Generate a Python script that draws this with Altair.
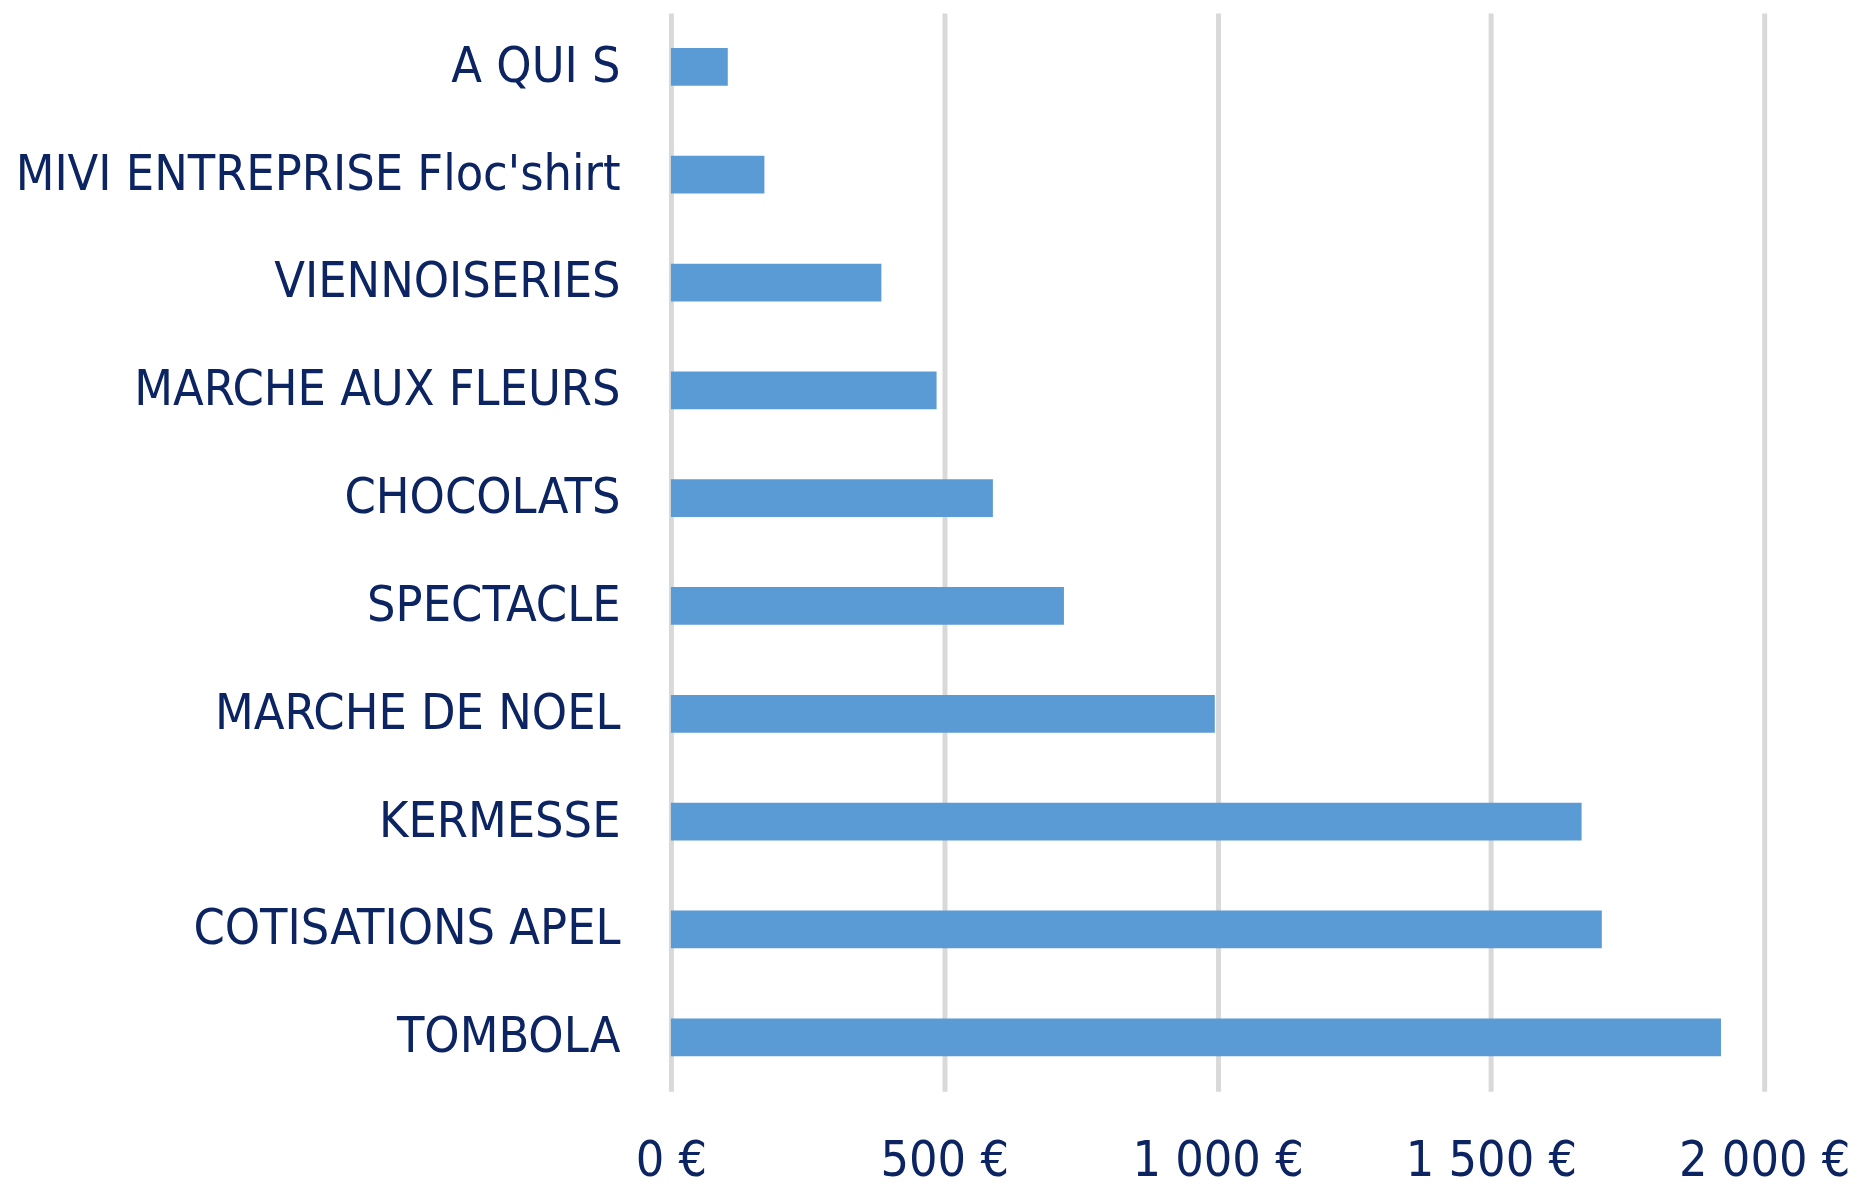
import altair as alt
import pandas as pd

categories = ["A QUI S", "MIVI ENTREPRISE Floc'shirt", "VIENNOISERIES", "MARCHE AUX FLEURS",
              "CHOCOLATS", "SPECTACLE", "MARCHE DE NOEL", "KERMESSE", "COTISATIONS APEL", "TOMBOLA"]
values = [104, 171, 385, 486, 589, 719, 995, 1666, 1703, 1921]
x_ticks = [0, 500, 1000, 1500, 2000]

df = pd.DataFrame({"cat": categories, "val": values})

FONT = "DejaVu Sans Condensed"
TEXT = "#0c2461"

chart = alt.Chart(df).mark_bar(color="#5b9bd5").encode(
    x=alt.X("val:Q", scale=alt.Scale(domain=[0, 2000], nice=False),
            axis=alt.Axis(values=x_ticks, title=None, grid=True, gridColor="#d9d9d9", gridWidth=5,
                          domain=False, ticks=False, tickSize=0, labelFont=FONT, labelFontSize=50,
                          labelColor=TEXT, labelPadding=84, labelBaseline="alphabetic",
                          labelLimit=0,
                          labelExpr="replace(format(datum.value, ','), ',', ' ') + ' €'",
                          labelFlush=False, labelOverlap=False)),
    y=alt.Y("cat:N", sort=None,
            scale=alt.Scale(paddingInner=0.65, paddingOuter=0.325),
            axis=alt.Axis(title=None, domain=False, ticks=False, tickSize=0, labelFont=FONT,
                          labelFontSize=50, labelColor=TEXT, labelPadding=51, labelLimit=0)),
).properties(
    width=1095, height=1080,
    autosize=alt.AutoSizeParams(type="none"),
    padding={"left": 664, "top": 4, "right": 100, "bottom": 97},
    background="white",
).configure_view(stroke=None)

chart.save("out.html", embed_options={"renderer": "svg", "actions": False})
